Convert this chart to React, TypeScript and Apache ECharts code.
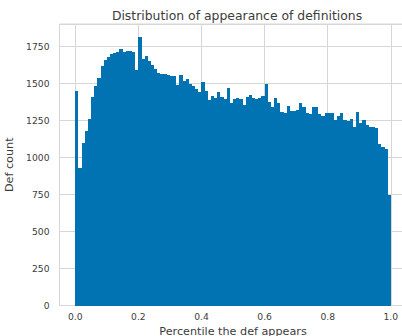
import React, { useEffect, useRef } from "react";
import * as echarts from "echarts";

const TITLE = "Distribution of appearance of definitions";
const X_NAME = "Percentile the def appears";
const Y_NAME = "Def count";

const BIN_COUNT = 100;
const BIN_START = 0;
const BIN_WIDTH = 0.01;

const COUNTS: number[] = [
  1450, 930, 1100, 1180, 1260, 1410, 1485, 1540, 1620, 1660,
  1680, 1700, 1705, 1715, 1730, 1715, 1722, 1720, 1712, 1590,
  1812, 1668, 1686, 1650, 1627, 1600, 1571, 1566, 1566, 1560,
  1551, 1548, 1488, 1555, 1519, 1530, 1494, 1480, 1465, 1443,
  1510, 1449, 1388, 1415, 1405, 1443, 1407, 1393, 1470, 1366,
  1395, 1400, 1398, 1353, 1412, 1420, 1405, 1395, 1400, 1415,
  1497, 1377, 1343, 1400, 1370, 1305, 1298, 1350, 1316, 1316,
  1320, 1366, 1343, 1303, 1292, 1343, 1343, 1292, 1283, 1300,
  1303, 1298, 1251, 1283, 1303, 1250, 1249, 1262, 1204, 1310,
  1235, 1250, 1222, 1204, 1204, 1200, 1090, 1070, 1057, 744,
];

const BAR_COLOR = "#0173b2";
const GRID_COLOR = "#d6d6d6";
const NONE = "rgba(0,0,0,0)";
const TEXT_COLOR = "#3c3c3c";
const FONT = "DejaVu Sans";

export default function App() {
  const ref = useRef<HTMLDivElement>(null);

  useEffect(() => {
    if (!ref.current) return;
    const chart = echarts.init(ref.current, undefined, { renderer: "svg" });
    const data = COUNTS.slice(0, BIN_COUNT).map((c, i) => [
      BIN_START + i * BIN_WIDTH,
      BIN_START + (i + 1) * BIN_WIDTH,
      c,
    ]);

    chart.setOption({
      animation: false,
      backgroundColor: "#ffffff",
      title: {
        text: TITLE,
        left: 232,
        textAlign: "center",
        top: 4,
        textStyle: {
          fontFamily: FONT,
          fontSize: 12.4,
          fontWeight: "normal",
          color: TEXT_COLOR,
        },
      },
      grid: {
        left: 59.5,
        top: 24,
        right: -4.6,
        bottom: 30.5,
        show: true,
        borderColor: GRID_COLOR,
        borderWidth: 1,
        backgroundColor: "transparent",
        containLabel: false,
        outerBoundsMode: "none",
      },
      xAxis: {
        type: "value",
        min: -0.05,
        max: 1.05,
        interval: 0.05,
        name: X_NAME,
        nameLocation: "middle",
        nameGap: 20,
        nameTextStyle: { fontFamily: FONT, fontSize: 11.2, color: TEXT_COLOR },
        axisLine: { show: false },
        axisTick: { show: false },
        splitLine: {
          show: true,
          lineStyle: { color: [NONE, GRID_COLOR, NONE, NONE], width: 1 },
        },
        axisLabel: {
          fontFamily: FONT,
          fontSize: 9.2,
          color: TEXT_COLOR,
          margin: 6,
          formatter: (v: number) => {
            const k = v * 5;
            if (v > -1e-9 && Math.abs(k - Math.round(k)) < 1e-6) {
              return (Math.round(k) / 5).toFixed(1);
            }
            return "";
          },
        },
      },
      yAxis: {
        type: "value",
        min: 0,
        max: 1902,
        interval: 250,
        name: Y_NAME,
        nameLocation: "middle",
        nameGap: 36,
        nameTextStyle: { fontFamily: FONT, fontSize: 11.2, color: TEXT_COLOR },
        axisLine: { show: false },
        axisTick: { show: false },
        splitLine: { show: true, lineStyle: { color: GRID_COLOR, width: 1 } },
        axisLabel: {
          fontFamily: FONT,
          fontSize: 9.2,
          color: TEXT_COLOR,
          margin: 10,
          showMaxLabel: false,
          formatter: (v: number) => String(v),
        },
      },
      series: [
        {
          type: "custom",
          z: 3,
          data,
          encode: { x: [0, 1], y: 2 },
          renderItem: (params: any, api: any) => {
            const x0 = api.value(0);
            const x1 = api.value(1);
            const y = api.value(2);
            const p0 = api.coord([x0, y]);
            const p1 = api.coord([x1, 0]);
            const left = Math.round(p0[0]);
            const right = Math.round(p1[0]);
            const top = Math.round(p0[1]);
            const bottom = Math.round(p1[1]);
            return {
              type: "rect",
              shape: {
                x: left,
                y: top,
                width: right - left,
                height: bottom - top,
              },
              style: { fill: BAR_COLOR },
            };
          },
        },
      ],
    });

    return () => chart.dispose();
  }, []);

  return (
    <div
      ref={ref}
      style={{ position: "fixed", left: 0, top: 0, width: 402, height: 336 }}
    />
  );
}
